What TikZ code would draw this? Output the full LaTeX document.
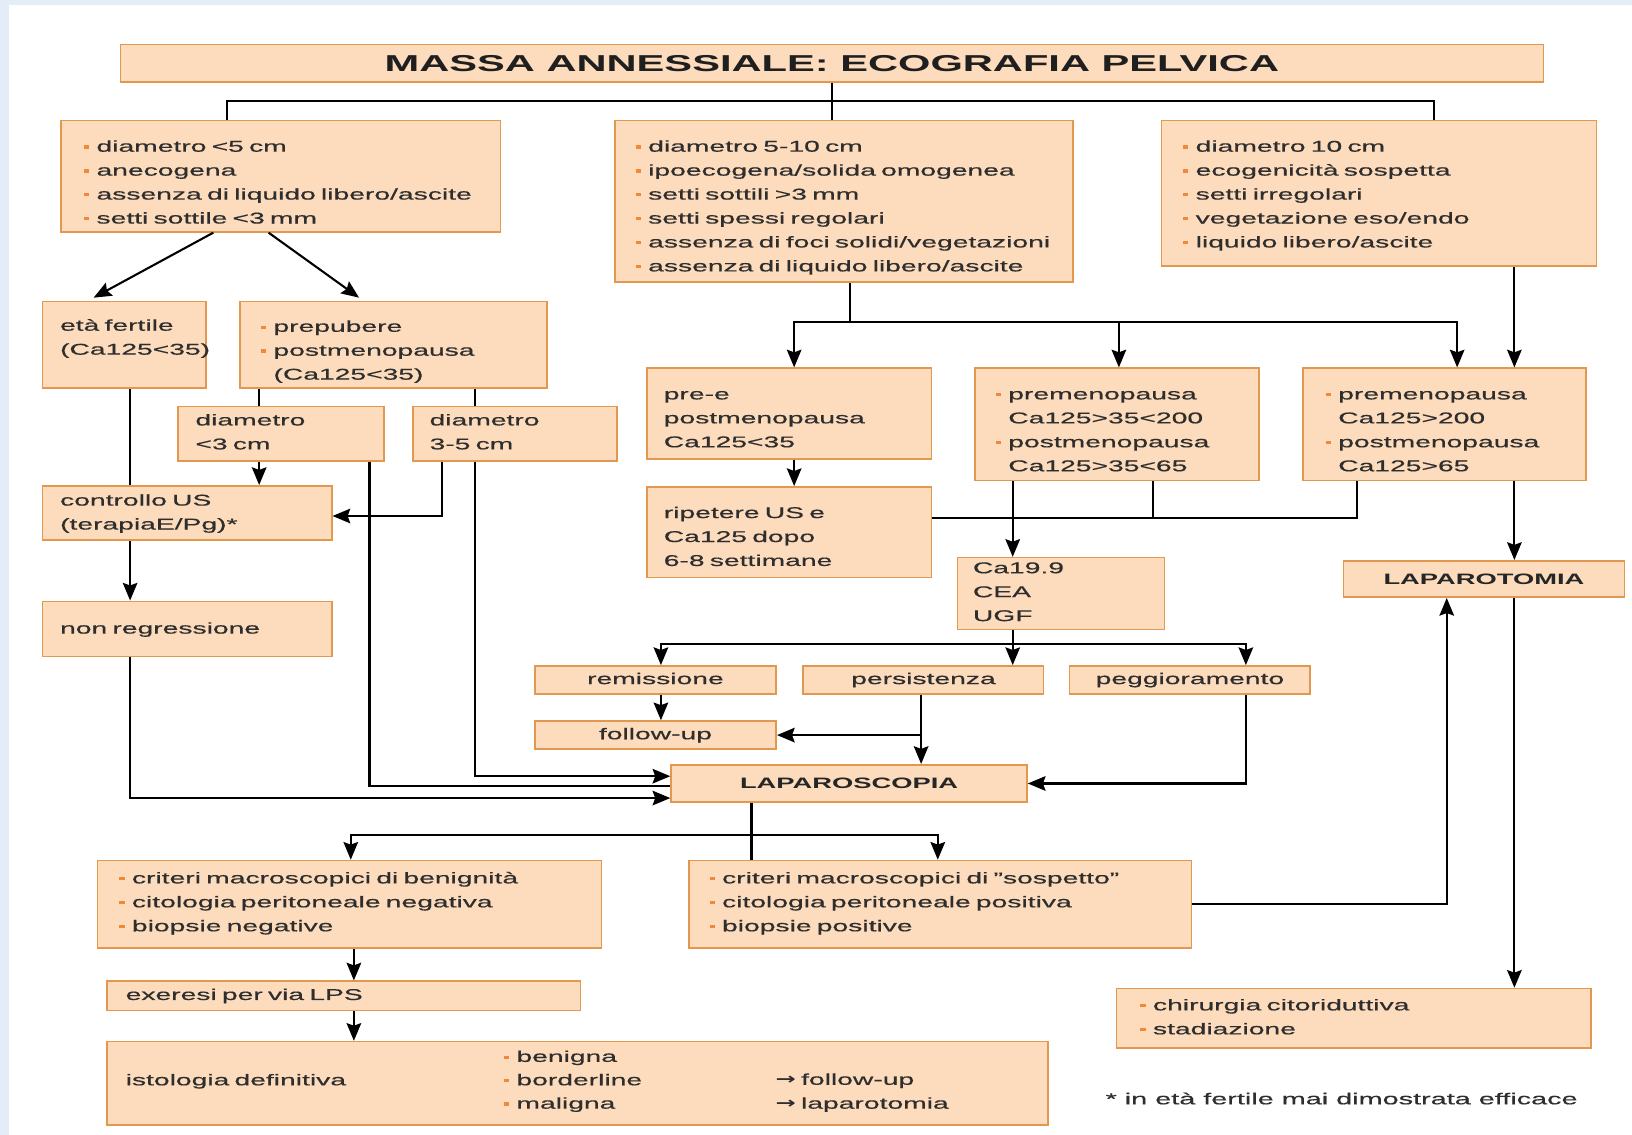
\documentclass[tikz,border=0pt]{standalone}
\usepackage{fontspec}
\setmainfont[FakeStretch=1.81, UprightFeatures={FakeBold=0.5}]{Liberation Sans}
\newfontfamily\arrfont[FakeStretch=1.55]{DejaVu Sans}
\usetikzlibrary{arrows.meta}
\definecolor{boxf}{HTML}{FDDCBD}
\definecolor{boxd}{HTML}{E2984F}
\definecolor{txtc}{HTML}{2E2E2E}
\definecolor{bulc}{HTML}{F08A3A}
\definecolor{bgblue}{HTML}{E4ECF8}
\newcommand{\bl}{\leavevmode\llap{\textcolor{bulc}{\rule[3pt]{5pt}{3pt}}\hspace{7pt}}}
\newcommand{\tp}[1]{\rule{0pt}{#1pt}}
\newcommand{\bt}[1]{\rule[-#1pt]{0pt}{#1pt}}
\newcommand{\rarr}{{\arrfont\bfseries →}}
\tikzset{
  boxn/.style={draw=boxd, fill=boxf, line width=1.5pt, anchor=north west, inner sep=0pt, align=left, text=txtc, font=\fontsize{15}{23}\selectfont},
  cbox/.style={draw=boxd, fill=boxf, line width=1.5pt, anchor=north west, inner sep=0pt, text=txtc, font=\fontsize{15}{23}\selectfont, text height=11pt, text depth=3pt},
  bbox/.style={cbox, text=black!85, font=\fontsize{14.5}{18}\selectfont\bfseries, text depth=0pt, text height=10.5pt},
  plaintxt/.style={anchor=north west, inner sep=0pt, align=left, text=txtc, font=\fontsize{15}{23}\selectfont},
  conn/.style={line width=2pt, draw=black},
  arr/.style={conn, -{Stealth[length=17pt,width=14pt,inset=2.5pt]}},
}
\begin{document}
\begin{tikzpicture}[x=1pt,y=-1pt]
\fill[white] (0,0) rectangle (1568,1090);
\fill[bgblue] (0,0) rectangle (1568,5);
\fill[bgblue] (0,0) rectangle (9,1090);
\useasboundingbox (0,0) rectangle (1568,1090);

% title
\node[draw=boxd, fill=boxf, line width=1.5pt, anchor=north west, inner sep=0pt,
  minimum width=1367pt, minimum height=36pt, text=black!88,
  font=\fontsize{22.1}{26}\selectfont\bfseries, text height=16pt, text depth=0pt]
  (TT) at (115,42) {MASSA ANNESSIALE: ECOGRAFIA PELVICA};

% first level
\node[boxn, text width=422pt] (A) at (58,115) {\leftskip=34pt
 \bl\tp{30}diametro <5 cm\\
 \bl anecogena\\
 \bl assenza di liquido libero/ascite\\
 \bl setti sottile <3 mm\bt{8}\par};
\node[boxn, text width=440pt] (B) at (590,115) {\leftskip=32pt
 \bl\tp{30}diametro 5-10 cm\\
 \bl ipoecogena/solida omogenea\\
 \bl setti sottili >3 mm\\
 \bl setti spessi regolari\\
 \bl assenza di foci solidi/vegetazioni\\
 \bl assenza di liquido libero/ascite\bt{10}\par};
\node[boxn, text width=418pt] (C) at (1115,115) {\leftskip=33pt
 \bl\tp{30}diametro 10 cm\\
 \bl ecogenicità sospetta\\
 \bl setti irregolari\\
 \bl vegetazione eso/endo\\
 \bl liquido libero/ascite\bt{18}\par};

% left branch
\node[boxn, text width=157pt] (D) at (40,289) {\leftskip=17pt
 \tp{28}età fertile\\
 (Ca125<35)\bt{32}\par};
\node[boxn, text width=295pt] (E) at (230,289) {\leftskip=32pt
 \bl\tp{29}prepubere\\
 \bl postmenopausa\\
 (Ca125<35)\bt{8}\par};
\node[boxn, text width=198pt] (F) at (170,390) {\leftskip=17pt
 \tp{18}diametro\\
 <3 cm\bt{11}\par};
\node[boxn, text width=196pt] (G) at (396,390) {\leftskip=16pt
 \tp{18}diametro\\
 3-5 cm\bt{11}\par};
\node[boxn, text width=278pt] (H) at (40,466) {\leftskip=17pt
 \tp{19}controllo US\\
 (terapiaE/Pg)*\bt{10}\par};
\node[boxn, text width=278pt] (I) at (40,577) {\leftskip=17pt
 \tp{31}non regressione\bt{22}\par};

% middle branch
\node[boxn, text width=273pt] (J) at (621,353) {\leftskip=16pt
 \tp{30}pre-e\\
 postmenopausa\\
 Ca125<35\bt{11}\par};
\node[boxn, text width=273pt] (K) at (936,353) {\leftskip=32pt
 \bl\tp{30}premenopausa\\
 Ca125>35<200\\
 \bl postmenopausa\\
 Ca125>35<65\bt{9}\par};
\node[boxn, text width=272pt] (L) at (1251,353) {\leftskip=34pt
 \bl\tp{30}premenopausa\\
 Ca125>200\\
 \bl postmenopausa\\
 Ca125>65\bt{9}\par};
\node[boxn, text width=273pt] (M) at (621,467) {\leftskip=16pt
 \tp{30}ripetere US e\\
 Ca125 dopo\\
 6-8 settimane\bt{11}\par};
\node[boxn, text width=199pt] (N) at (919,535) {\leftskip=15pt
 \tp{15}Ca19.9\\
 CEA\\
 UGF\bt{8}\par};
\node[bbox, minimum width=270pt, minimum height=35pt] (O) at (1290,538) {LAPAROTOMIA};

\node[cbox, minimum width=232pt, minimum height=27pt] (P) at (513,639) {remissione};
\node[cbox, minimum width=231pt, minimum height=27pt] (Q) at (771,639) {persistenza};
\node[cbox, minimum width=231pt, minimum height=27pt] (R) at (1027,639) {peggioramento};
\node[cbox, minimum width=232pt, minimum height=27pt] (S) at (513,692) {follow-up};
\node[bbox, minimum width=342pt, minimum height=36pt] (T) at (644,734) {LAPAROSCOPIA};

% bottom
\node[boxn, text width=484pt] (U) at (93,826) {\leftskip=33pt
 \bl\tp{22}criteri macroscopici di benignità\\
 \bl citologia peritoneale negativa\\
 \bl biopsie negative\bt{16}\par};
\node[boxn, text width=483pt] (V) at (661,826) {\leftskip=32pt
 \bl\tp{22}criteri macroscopici di "sospetto"\\
 \bl citologia peritoneale positiva\\
 \bl biopsie positive\bt{16}\par};
\node[boxn, text width=456pt] (W) at (1072,949) {\leftskip=35pt
 \bl\tp{21}chirurgia citoriduttiva\\
 \bl stadiazione\bt{13}\par};
\node[boxn, text width=455pt] (X) at (102,942) {\leftskip=18pt
 \tp{18}exeresi per via LPS\bt{10}\par};
\node[boxn, text width=904pt] (Y) at (102,1000) {\leftskip=18pt
 \tp{42}istologia definitiva\bt{38}\par};
\node[plaintxt, text width=200pt, font=\fontsize{15}{22.5}\selectfont] (Y2) at (496,1006) {\bl\tp{14}benigna\\
 \bl borderline\\
 \bl maligna\par};
\node[plaintxt, text width=220pt] (Y3) at (745,1028) {\tp{14}\rarr\ follow-up\\
 \rarr\ laparotomia\par};

\node[anchor=base west, inner sep=0pt, text=txtc, font=\fontsize{15.3}{19}\selectfont] (FN) at (1062,1061) {* in età fertile mai dimostrata efficace};

% connectors
\draw[conn] (TT.south) -- (TT.south |- B.north);
\draw[conn] ([xshift=160pt]A.north west) -- ++(0,-18) -| ([xshift=263pt]C.north west);

\draw[arr] ([xshift=147pt]A.south west) -- ([xshift=50pt,yshift=3pt]D.north west);
\draw[arr] ([xshift=200pt]A.south west) -- ([xshift=115pt,yshift=3pt]E.north west);

\draw[conn] ([xshift=19pt]E.south west) coordinate (e1) -- (e1 |- F.north);
\draw[conn] ([xshift=226pt]E.south west) coordinate (e2) -- (e2 |- G.north);
\draw[conn] ([xshift=85pt]D.south west) coordinate (d1) -- (d1 |- H.north);
\draw[arr] ([xshift=85pt]H.south west) coordinate (h1) -- (h1 |- I.north);
\draw[arr] ([xshift=79pt]F.south west) coordinate (f1) -- (f1 |- H.north);
\coordinate (hin) at ([yshift=-3pt]H.east);
\draw[arr] ([xshift=29pt]G.south west) |- (hin);
\coordinate (tw2) at ([yshift=-2pt]T.west);
\coordinate (tw1) at ([yshift=7pt]T.west);
\coordinate (tw3) at ([yshift=-14pt]T.west);
\draw[conn] ([xshift=185pt]F.south west) |- (tw2);
\draw[arr] ([xshift=60pt]G.south west) |- (tw1);
\draw[arr] ([xshift=85pt]I.south west) |- (tw3);

\draw[conn] ([xshift=227pt]B.south west) -- ++(0,38) coordinate (b1);
\draw[arr] (b1) -| ([xshift=142pt]J.north west);
\draw[arr] (b1) -| ([xshift=139pt]K.north west);
\draw[arr] (b1) -| ([xshift=149pt]L.north west);
\draw[arr] ([xshift=340pt]C.south west) coordinate (c1) -- (c1 |- L.north);
\draw[arr] ([xshift=142pt]J.south west) coordinate (j1) -- (j1 |- M.north);
\coordinate (mk) at ([yshift=13.5pt]M.east);
\draw[conn] ([xshift=53pt]L.south west) |- (mk);
\draw[conn] ([xshift=172pt]K.south west) coordinate (k2) -- (k2 |- mk);
\draw[arr] ([xshift=37pt]K.south west) coordinate (k1) -- (k1 |- N.north);
\draw[arr] ([xshift=204pt]L.south west) coordinate (l1) -- (l1 |- O.north);

\draw[conn] ([xshift=54pt]N.south west) -- ++(0,13) coordinate (n1);
\draw[arr] (n1) -- (n1 |- Q.north);
\draw[arr] (n1) -| ([xshift=122pt]P.north west);
\draw[arr] (n1) -| ([xshift=170pt]R.north west);
\draw[arr] ([xshift=122pt]P.south west) coordinate (p1) -- (p1 |- S.north);
\draw[arr] ([xshift=114pt]Q.south west) coordinate (q1) -- (q1 |- T.north);
\draw[arr] (q1 |- S.east) -- (S.east);
\draw[arr] ([xshift=170pt]R.south west) |- (T.east);

\draw[conn] ([xshift=78pt]T.south west) coordinate (tb) -- (tb |- V.north);
\path (tb) ++(0,31) coordinate (t4);
\draw[arr] (t4) -| ([xshift=244pt]U.north west);
\draw[arr] (t4) -| ([xshift=240pt]V.north west);
\draw[arr] (V.east) -| ([xshift=100pt]O.south west);
\draw[arr] ([xshift=165pt]O.south west) coordinate (o1) -- (o1 |- W.north);
\draw[arr] ([xshift=247pt]U.south west) coordinate (u1) -- (u1 |- X.north);
\draw[arr] ([xshift=238pt]X.south west) coordinate (x1) -- (x1 |- Y.north);
\end{tikzpicture}
\end{document}
